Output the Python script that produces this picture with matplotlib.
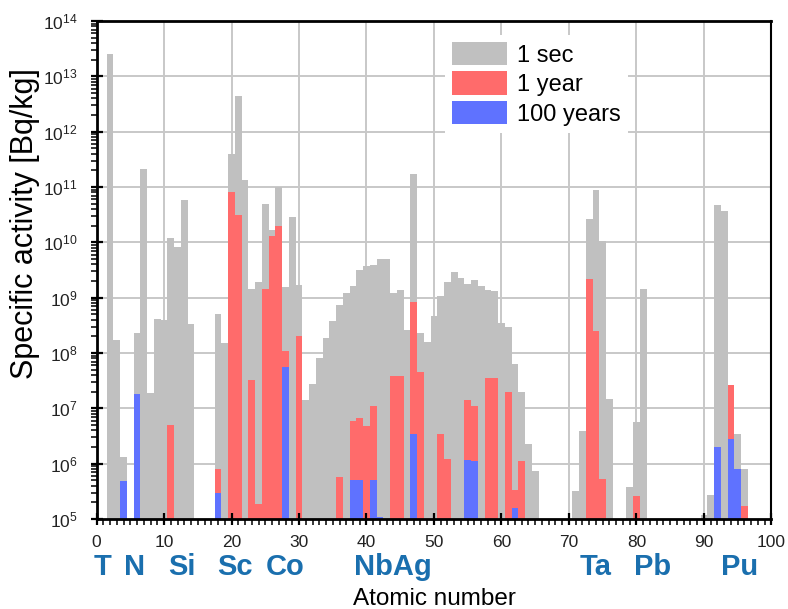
import numpy as np
import matplotlib
matplotlib.use('Agg')
import matplotlib.pyplot as plt
from matplotlib.ticker import LogLocator, MultipleLocator, NullFormatter
from matplotlib.patches import Patch

plt.rcParams['font.family'] = ['Liberation Sans', 'DejaVu Sans']

# --- Data: specific activity per atomic number ---
z_sec = [2, 3, 4, 6, 7, 8, 9, 10, 11, 12, 13, 14, 18, 19, 20, 21, 22, 23, 24, 25,
         26, 27, 28, 29, 30, 31, 32, 33, 34, 35, 36, 37, 38, 39, 40, 41, 42, 43, 44, 45,
         46, 47, 48, 49, 50, 51, 52, 53, 54, 55, 56, 57, 58, 59, 60, 61, 62, 63, 64, 65,
         71, 72, 73, 74, 75, 76, 79, 80, 81, 90, 91, 92, 93, 94, 95, 96]
act_sec = [2.5e13, 1.7e8, 1.3e6, 2.3e8, 2.1e11, 1.9e7, 4.2e8, 4.0e8, 1.2e10, 8.1e9,
           5.8e10, 3.3e8, 5.0e8, 1.5e8, 4.0e11, 4.4e12, 1.35e11, 1.45e9, 1.9e9, 4.9e10,
           1.7e10, 9.8e10, 1.55e9, 2.9e10, 1.7e9, 1.4e7, 2.8e7, 8.1e7, 1.9e8, 3.8e8,
           7.5e8, 1.2e9, 1.65e9, 3.2e9, 3.8e9, 3.9e9, 5.0e9, 5.1e9, 1.2e9, 1.35e9,
           2.6e8, 1.7e11, 2.3e8, 1.55e8, 4.7e8, 1.05e9, 1.9e9, 2.9e9, 2.3e9, 1.8e9,
           2.1e9, 1.6e9, 1.4e9, 1.3e9, 3.5e8, 2.9e8, 6.4e7, 2.0e7, 2.3e6, 7.3e5,
           3.2e5, 3.9e6, 2.6e10, 8.9e10, 1.04e10, 1.5e7, 3.8e5, 5.7e6, 1.45e9,
           1.2e5, 2.7e5, 4.8e10, 3.7e10, 2.6e7, 3.5e6, 8.0e5]

z_year = [11, 18, 20, 21, 23, 24, 25, 26, 27, 28, 30, 36, 38, 39, 40, 41, 44, 45, 47, 48,
          51, 52, 55, 56, 58, 59, 61, 62, 63, 73, 74, 75, 80, 94, 96]
act_year = [4.9e6, 7.9e5, 8.0e10, 3.1e10, 3.2e7, 1.9e5, 1.45e9, 1.3e10, 2.0e10, 1.07e8,
            2.0e8, 5.7e5, 5.9e6, 6.7e6, 4.8e6, 1.1e7, 3.9e7, 3.9e7, 8.2e8, 4.6e7,
            3.4e6, 1.2e6, 1.4e7, 1.1e7, 3.6e7, 3.6e7, 2.0e7, 3.4e5, 1.1e6, 2.2e9,
            2.5e8, 5.3e5, 2.6e5, 2.6e7, 1.7e5]

z_100y = [4, 6, 18, 28, 38, 39, 41, 42, 47, 55, 56, 62, 92, 94, 95]
act_100y = [4.9e5, 1.8e7, 2.9e5, 5.6e7, 5.0e5, 5.0e5, 5.0e5, 1.1e5, 3.5e6, 1.15e6,
            1.1e6, 1.6e5, 2.0e6, 2.8e6, 8.0e5]

element_names = ['T', 'N', 'Si', 'Sc', 'Co', 'NbAg', 'Ta', 'Pb', 'Pu']
element_z = [0.9, 5.7, 12.7, 20.5, 27.9, 43.9, 73.9, 82.4, 95.3]

series_labels = ['1 sec', '1 year', '100 years']
series_colors = ['#c0c0c0', '#ff6b6b', '#5f72ff']

# --- Figure & axes ---
fig = plt.figure(figsize=(7.88, 6.09), dpi=100)
ax = fig.add_axes([0.1225, 0.1478, 0.8565, 0.8177])

for z, act, col in zip([z_sec, z_year, z_100y], [act_sec, act_year, act_100y], series_colors):
    ax.bar(z, act, width=1.0, color=col, linewidth=0, zorder=2)

ax.set_yscale('log')
ax.set_xlim(0, 100)
ax.set_ylim(1e5, 1e14)

ax.xaxis.set_major_locator(MultipleLocator(10))
ax.xaxis.set_minor_locator(MultipleLocator(1))
ax.yaxis.set_major_locator(LogLocator(base=10, numticks=20))
ax.yaxis.set_minor_locator(LogLocator(base=10, subs=np.arange(2, 10), numticks=20))
ax.yaxis.set_minor_formatter(NullFormatter())

# --- grid below the bars, axis on top ---
for xv in ax.get_xticks():
    if 0 < xv < 100:
        ax.axvline(xv, color='#c8c8c8', linewidth=1.4, zorder=0)
for yv in ax.get_yticks():
    if 1e5 < yv < 1e14:
        ax.axhline(yv, color='#c8c8c8', linewidth=1.4, zorder=0)
ax.set_axisbelow(False)

ax.tick_params(which='major', direction='inout', length=9, width=1.6, labelsize=12.5,
               colors='black', labelcolor='#222222', top=False, right=False)
ax.tick_params(which='minor', direction='out', length=4.5, width=1.1, top=False, right=False)
ax.tick_params(axis='x', which='major', pad=7)
ax.tick_params(axis='y', which='major', pad=9)

for side in ['left', 'bottom', 'top']:
    ax.spines[side].set_linewidth(2)
ax.spines['right'].set_linewidth(1.5)

ax.set_xlabel('Atomic number', fontsize=17.5)
ax.xaxis.set_label_coords(0.5, -0.138)
ax.set_ylabel('Specific activity [Bq/kg]', fontsize=22)
ax.yaxis.set_label_coords(-0.084, 0.594)

# --- Element labels below the axis ---
for name, z in zip(element_names, element_z):
    ax.text(z, -0.1124, name, transform=ax.get_xaxis_transform(), ha='center', va='baseline',
            fontsize=21, fontweight='bold', color='#1a6fae')

# --- Legend ---
handles = [Patch(facecolor=c, edgecolor='none') for c in series_colors]
leg = ax.legend(handles, series_labels, loc='upper left', bbox_to_anchor=(0.516, 0.972),
                fontsize=17, handlelength=2.35, handleheight=1.15, labelspacing=0.2,
                handletextpad=0.4, borderpad=0.3, borderaxespad=0, frameon=True,
                fancybox=False)
leg.get_frame().set_edgecolor('none')
leg.get_frame().set_facecolor('white')
leg.get_frame().set_alpha(1)

fig.savefig('out.png', dpi=100)
